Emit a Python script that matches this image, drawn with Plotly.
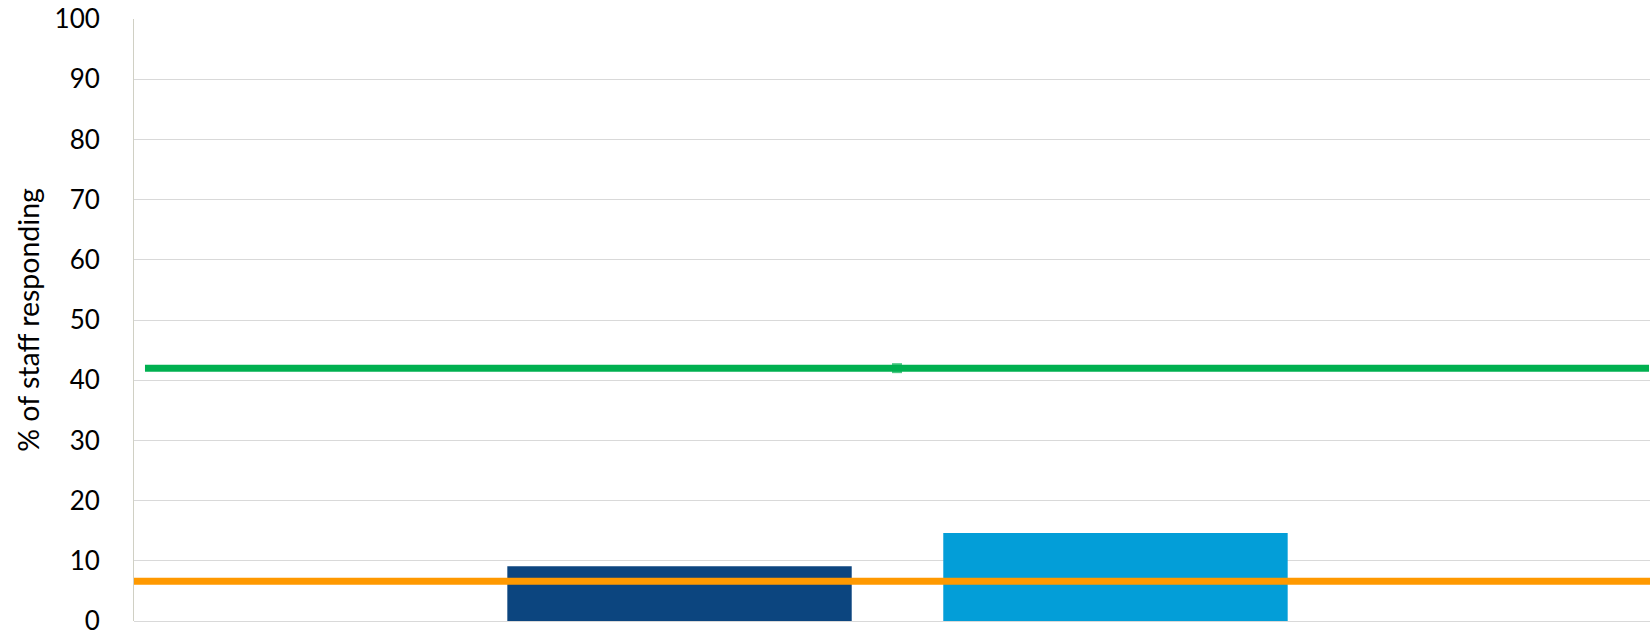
import plotly.graph_objects as go

# Survey results: share of staff responding, by group
groups = ["Organisation"]
series_names = ["Trust", "Comparator average"]
series_values = [[9.1], [14.6]]
series_colors = ["#0C457F", "#039ED8"]

# Reference lines
best_points = ["Start", "Mid", "End"]
best_values = [42.0, 42.0, 42.0]
national_average = 6.6

y_ticks = list(range(0, 101, 10))

fig = go.Figure()

for name, vals, color in zip(series_names, series_values, series_colors):
    fig.add_trace(go.Bar(
        x=groups, y=vals, name=name,
        marker=dict(color=color, line=dict(width=0)),
        xaxis="x", yaxis="y",
    ))

fig.add_trace(go.Scatter(
    x=list(range(len(best_points))), y=best_values,
    name="Best score", mode="lines+markers",
    line=dict(color="#00B050", width=7),
    marker=dict(color="#00B050", symbol="square", size=[0, 10, 0],
                line=dict(width=0)),
    xaxis="x2", yaxis="y",
))

fig.add_shape(
    type="line", xref="paper", x0=0, x1=1,
    yref="y", y0=national_average, y1=national_average,
    line=dict(color="#FF9900", width=7), layer="above",
)

fig.update_layout(
    width=1650, height=636,
    margin=dict(l=134, r=0, t=19, b=15),
    paper_bgcolor="white", plot_bgcolor="white",
    showlegend=False,
    barmode="group", bargap=0.429, bargroupgap=0.21,
    font=dict(family="Lato", size=26, color="#000000"),
    xaxis=dict(
        type="category", range=[-0.5, 0.4928],
        showticklabels=False, showgrid=False, zeroline=False,
        showline=False, ticks="",
    ),
    xaxis2=dict(
        overlaying="x", range=[-0.0146, 2.0013],
        showticklabels=False, showgrid=False, zeroline=False,
        showline=False, ticks="",
    ),
    yaxis=dict(
        range=[0, 100], tickvals=y_ticks,
        ticktext=[str(t) for t in y_ticks],
        ticklabeloverflow="allow",
        showgrid=True, gridcolor="#D9D9D9", gridwidth=1,
        zeroline=True, zerolinecolor="#D9D9D9", zerolinewidth=1,
        showline=True, linecolor="#D0D0C4", linewidth=1,
        ticks="", ticklabelstandoff=28,
        title=dict(text="% of staff responding", standoff=6,
                   font=dict(family="Lato", size=28.5)),
    ),
)

fig.write_html("out.html")
